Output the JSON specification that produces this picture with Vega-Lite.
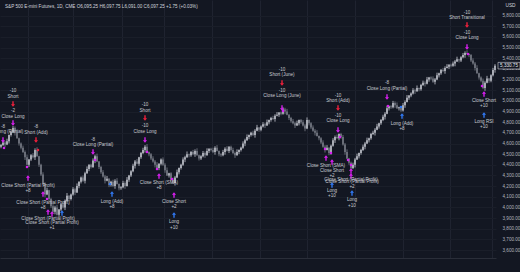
{
  "$schema": "https://vega.github.io/schema/vega-lite/v6.json",
  "width": 496,
  "height": 258,
  "autosize": {"type": "none"},
  "padding": {"left": 0, "top": 0, "right": 24, "bottom": 14},
  "background": "#131722",
  "config": {"view": {"stroke": null}, "font": "Liberation Sans", "axis": {"labelOverlap": false, "labelSeparation": 0}, "axisY": {"labelOverlap": false, "labelBound": false, "tickCount": 40}},
  "title": {"text": "S&P 500 E-mini Futures, 1D, CME  O6,095.25  H6,097.75  L6,091.00  C6,097.25  +1.75 (+0.03%)", "anchor": "start", "frame": "group", "orient": "top", "offset": -9, "dx": 5, "fontSize": 4.6, "fontWeight": "normal", "color": "#d1d4dc", "font": "Liberation Sans"},
  "datasets": {
    "bars": [
      {"i":0,"o":4570,"h":4596,"l":4555,"c":4586},{"i":1,"o":4586,"h":4630,"l":4576,"c":4610},{"i":2,"o":4610,"h":4625,"l":4565,"c":4590},{"i":3,"o":4590,"h":4645,"l":4585,"c":4620},{"i":4,"o":4620,"h":4685,"l":4600,"c":4680},
      {"i":5,"o":4680,"h":4720,"l":4665,"c":4710},{"i":6,"o":4710,"h":4765,"l":4700,"c":4745},{"i":7,"o":4745,"h":4760,"l":4675,"c":4700},{"i":8,"o":4700,"h":4725,"l":4645,"c":4650},{"i":9,"o":4650,"h":4655,"l":4580,"c":4600},
      {"i":10,"o":4600,"h":4610,"l":4545,"c":4560},{"i":11,"o":4560,"h":4580,"l":4510,"c":4520},{"i":12,"o":4520,"h":4535,"l":4445,"c":4470},{"i":13,"o":4470,"h":4495,"l":4395,"c":4400},{"i":14,"o":4400,"h":4455,"l":4380,"c":4450},
      {"i":15,"o":4450,"h":4500,"l":4435,"c":4490},{"i":16,"o":4490,"h":4510,"l":4460,"c":4470},{"i":17,"o":4470,"h":4555,"l":4445,"c":4540},{"i":18,"o":4540,"h":4565,"l":4475,"c":4480},{"i":19,"o":4480,"h":4485,"l":4380,"c":4400},
      {"i":20,"o":4400,"h":4410,"l":4295,"c":4310},{"i":21,"o":4310,"h":4330,"l":4210,"c":4220},{"i":22,"o":4220,"h":4235,"l":4095,"c":4120},{"i":23,"o":4120,"h":4185,"l":4115,"c":4160},{"i":24,"o":4160,"h":4165,"l":4060,"c":4080},
      {"i":25,"o":4080,"h":4090,"l":3995,"c":4010},{"i":26,"o":4010,"h":4030,"l":3950,"c":3960},{"i":27,"o":3960,"h":4015,"l":3935,"c":4000},{"i":28,"o":4000,"h":4025,"l":3925,"c":3930},{"i":29,"o":3930,"h":3985,"l":3910,"c":3980},
      {"i":30,"o":3980,"h":4040,"l":3965,"c":4030},{"i":31,"o":4030,"h":4050,"l":3990,"c":4000},{"i":32,"o":4000,"h":4075,"l":3975,"c":4060},{"i":33,"o":4060,"h":4135,"l":4055,"c":4110},{"i":34,"o":4110,"h":4115,"l":4060,"c":4080},
      {"i":35,"o":4080,"h":4130,"l":4065,"c":4120},{"i":36,"o":4120,"h":4190,"l":4110,"c":4170},{"i":37,"o":4170,"h":4185,"l":4115,"c":4140},{"i":38,"o":4140,"h":4225,"l":4135,"c":4200},{"i":39,"o":4200,"h":4245,"l":4180,"c":4240},
      {"i":40,"o":4240,"h":4290,"l":4225,"c":4280},{"i":41,"o":4280,"h":4300,"l":4240,"c":4250},{"i":42,"o":4250,"h":4335,"l":4225,"c":4320},{"i":43,"o":4320,"h":4385,"l":4315,"c":4360},{"i":44,"o":4360,"h":4405,"l":4340,"c":4400},
      {"i":45,"o":4400,"h":4410,"l":4365,"c":4380},{"i":46,"o":4380,"h":4460,"l":4370,"c":4440},{"i":47,"o":4440,"h":4495,"l":4415,"c":4480},{"i":48,"o":4480,"h":4505,"l":4425,"c":4430},{"i":49,"o":4430,"h":4435,"l":4360,"c":4380},
      {"i":50,"o":4380,"h":4390,"l":4315,"c":4330},{"i":51,"o":4330,"h":4350,"l":4280,"c":4290},{"i":52,"o":4290,"h":4305,"l":4225,"c":4250},{"i":53,"o":4250,"h":4295,"l":4245,"c":4270},{"i":54,"o":4270,"h":4275,"l":4190,"c":4210},
      {"i":55,"o":4210,"h":4250,"l":4195,"c":4240},{"i":56,"o":4240,"h":4260,"l":4190,"c":4200},{"i":57,"o":4200,"h":4265,"l":4175,"c":4250},{"i":58,"o":4250,"h":4275,"l":4215,"c":4220},{"i":59,"o":4220,"h":4225,"l":4160,"c":4180},
      {"i":60,"o":4180,"h":4200,"l":4165,"c":4190},{"i":61,"o":4190,"h":4250,"l":4180,"c":4230},{"i":62,"o":4230,"h":4245,"l":4175,"c":4200},{"i":63,"o":4200,"h":4285,"l":4195,"c":4260},{"i":64,"o":4260,"h":4305,"l":4240,"c":4300},
      {"i":65,"o":4300,"h":4350,"l":4285,"c":4340},{"i":66,"o":4340,"h":4410,"l":4330,"c":4390},{"i":67,"o":4390,"h":4445,"l":4365,"c":4430},{"i":68,"o":4430,"h":4455,"l":4405,"c":4410},{"i":69,"o":4410,"h":4475,"l":4390,"c":4470},
      {"i":70,"o":4470,"h":4520,"l":4455,"c":4510},{"i":71,"o":4510,"h":4560,"l":4500,"c":4540},{"i":72,"o":4540,"h":4585,"l":4515,"c":4570},{"i":73,"o":4570,"h":4595,"l":4515,"c":4520},{"i":74,"o":4520,"h":4525,"l":4480,"c":4500},
      {"i":75,"o":4500,"h":4510,"l":4445,"c":4460},{"i":76,"o":4460,"h":4480,"l":4420,"c":4430},{"i":77,"o":4430,"h":4445,"l":4375,"c":4400},{"i":78,"o":4400,"h":4425,"l":4365,"c":4370},{"i":79,"o":4370,"h":4415,"l":4350,"c":4410},
      {"i":80,"o":4410,"h":4460,"l":4395,"c":4450},{"i":81,"o":4450,"h":4470,"l":4390,"c":4400},{"i":82,"o":4400,"h":4415,"l":4325,"c":4350},{"i":83,"o":4350,"h":4375,"l":4295,"c":4300},{"i":84,"o":4300,"h":4325,"l":4280,"c":4320},
      {"i":85,"o":4320,"h":4330,"l":4245,"c":4260},{"i":86,"o":4260,"h":4280,"l":4220,"c":4230},{"i":87,"o":4230,"h":4295,"l":4205,"c":4280},{"i":88,"o":4280,"h":4355,"l":4275,"c":4330},{"i":89,"o":4330,"h":4375,"l":4310,"c":4370},
      {"i":90,"o":4370,"h":4410,"l":4355,"c":4400},{"i":91,"o":4400,"h":4470,"l":4390,"c":4450},{"i":92,"o":4450,"h":4485,"l":4425,"c":4470},{"i":93,"o":4470,"h":4525,"l":4465,"c":4500},{"i":94,"o":4500,"h":4505,"l":4470,"c":4490},
      {"i":95,"o":4490,"h":4530,"l":4475,"c":4520},{"i":96,"o":4520,"h":4540,"l":4490,"c":4500},{"i":97,"o":4500,"h":4545,"l":4475,"c":4530},{"i":98,"o":4530,"h":4555,"l":4485,"c":4490},{"i":99,"o":4490,"h":4495,"l":4440,"c":4460},
      {"i":100,"o":4460,"h":4490,"l":4445,"c":4480},{"i":101,"o":4480,"h":4530,"l":4470,"c":4510},{"i":102,"o":4510,"h":4525,"l":4465,"c":4490},{"i":103,"o":4490,"h":4555,"l":4485,"c":4530},{"i":104,"o":4530,"h":4555,"l":4510,"c":4550},
      {"i":105,"o":4550,"h":4560,"l":4525,"c":4540},{"i":106,"o":4540,"h":4560,"l":4510,"c":4520},{"i":107,"o":4520,"h":4575,"l":4495,"c":4560},{"i":108,"o":4560,"h":4585,"l":4525,"c":4530},{"i":109,"o":4530,"h":4535,"l":4480,"c":4500},
      {"i":110,"o":4500,"h":4510,"l":4475,"c":4490},{"i":111,"o":4490,"h":4540,"l":4480,"c":4520},{"i":112,"o":4520,"h":4565,"l":4495,"c":4550},{"i":113,"o":4550,"h":4575,"l":4525,"c":4530},{"i":114,"o":4530,"h":4575,"l":4510,"c":4570},
      {"i":115,"o":4570,"h":4580,"l":4525,"c":4540},{"i":116,"o":4540,"h":4560,"l":4500,"c":4510},{"i":117,"o":4510,"h":4525,"l":4465,"c":4490},{"i":118,"o":4490,"h":4545,"l":4485,"c":4520},{"i":119,"o":4520,"h":4545,"l":4500,"c":4540},
      {"i":120,"o":4540,"h":4570,"l":4525,"c":4560},{"i":121,"o":4560,"h":4620,"l":4550,"c":4600},{"i":122,"o":4600,"h":4645,"l":4575,"c":4630},{"i":123,"o":4630,"h":4685,"l":4625,"c":4660},{"i":124,"o":4660,"h":4685,"l":4640,"c":4680},
      {"i":125,"o":4680,"h":4710,"l":4665,"c":4700},{"i":126,"o":4700,"h":4720,"l":4670,"c":4680},{"i":127,"o":4680,"h":4735,"l":4655,"c":4720},{"i":128,"o":4720,"h":4775,"l":4715,"c":4750},{"i":129,"o":4750,"h":4755,"l":4710,"c":4730},
      {"i":130,"o":4730,"h":4770,"l":4715,"c":4760},{"i":131,"o":4760,"h":4800,"l":4750,"c":4780},{"i":132,"o":4780,"h":4795,"l":4745,"c":4770},{"i":133,"o":4770,"h":4825,"l":4765,"c":4800},{"i":134,"o":4800,"h":4825,"l":4780,"c":4820},
      {"i":135,"o":4820,"h":4850,"l":4805,"c":4840},{"i":136,"o":4840,"h":4860,"l":4820,"c":4830},{"i":137,"o":4830,"h":4875,"l":4805,"c":4860},{"i":138,"o":4860,"h":4895,"l":4855,"c":4870},{"i":139,"o":4870,"h":4895,"l":4850,"c":4890},
      {"i":140,"o":4890,"h":4900,"l":4865,"c":4880},{"i":141,"o":4880,"h":4940,"l":4870,"c":4920},{"i":142,"o":4920,"h":4935,"l":4875,"c":4900},{"i":143,"o":4900,"h":4925,"l":4865,"c":4870},{"i":144,"o":4870,"h":4875,"l":4820,"c":4840},
      {"i":145,"o":4840,"h":4850,"l":4795,"c":4810},{"i":146,"o":4810,"h":4830,"l":4780,"c":4790},{"i":147,"o":4790,"h":4805,"l":4745,"c":4770},{"i":148,"o":4770,"h":4815,"l":4765,"c":4790},{"i":149,"o":4790,"h":4825,"l":4770,"c":4820},
      {"i":150,"o":4820,"h":4830,"l":4785,"c":4800},{"i":151,"o":4800,"h":4820,"l":4760,"c":4770},{"i":152,"o":4770,"h":4785,"l":4715,"c":4740},{"i":153,"o":4740,"h":4845,"l":4735,"c":4820},{"i":154,"o":4820,"h":4825,"l":4770,"c":4790},
      {"i":155,"o":4790,"h":4800,"l":4735,"c":4750},{"i":156,"o":4750,"h":4770,"l":4710,"c":4720},{"i":157,"o":4720,"h":4735,"l":4675,"c":4700},{"i":158,"o":4700,"h":4725,"l":4665,"c":4670},{"i":159,"o":4670,"h":4675,"l":4630,"c":4650},
      {"i":160,"o":4650,"h":4660,"l":4595,"c":4610},{"i":161,"o":4610,"h":4630,"l":4560,"c":4570},{"i":162,"o":4570,"h":4585,"l":4515,"c":4540},{"i":163,"o":4540,"h":4585,"l":4535,"c":4560},{"i":164,"o":4560,"h":4565,"l":4490,"c":4510},
      {"i":165,"o":4510,"h":4590,"l":4495,"c":4580},{"i":166,"o":4580,"h":4650,"l":4570,"c":4630},{"i":167,"o":4630,"h":4675,"l":4605,"c":4660},{"i":168,"o":4660,"h":4685,"l":4645,"c":4650},{"i":169,"o":4650,"h":4695,"l":4630,"c":4690},
      {"i":170,"o":4690,"h":4700,"l":4645,"c":4660},{"i":171,"o":4660,"h":4680,"l":4580,"c":4590},{"i":172,"o":4590,"h":4605,"l":4495,"c":4520},{"i":173,"o":4520,"h":4545,"l":4455,"c":4460},{"i":174,"o":4460,"h":4465,"l":4400,"c":4420},
      {"i":175,"o":4420,"h":4430,"l":4355,"c":4370},{"i":176,"o":4370,"h":4420,"l":4360,"c":4400},{"i":177,"o":4400,"h":4465,"l":4375,"c":4450},{"i":178,"o":4450,"h":4505,"l":4445,"c":4480},{"i":179,"o":4480,"h":4515,"l":4460,"c":4510},
      {"i":180,"o":4510,"h":4550,"l":4495,"c":4540},{"i":181,"o":4540,"h":4590,"l":4530,"c":4570},{"i":182,"o":4570,"h":4615,"l":4545,"c":4600},{"i":183,"o":4600,"h":4655,"l":4595,"c":4630},{"i":184,"o":4630,"h":4655,"l":4610,"c":4650},
      {"i":185,"o":4650,"h":4700,"l":4635,"c":4690},{"i":186,"o":4690,"h":4720,"l":4680,"c":4700},{"i":187,"o":4700,"h":4745,"l":4675,"c":4730},{"i":188,"o":4730,"h":4785,"l":4725,"c":4760},{"i":189,"o":4760,"h":4795,"l":4740,"c":4790},
      {"i":190,"o":4790,"h":4830,"l":4775,"c":4820},{"i":191,"o":4820,"h":4870,"l":4810,"c":4850},{"i":192,"o":4850,"h":4895,"l":4825,"c":4880},{"i":193,"o":4880,"h":4955,"l":4875,"c":4930},{"i":194,"o":4930,"h":4955,"l":4910,"c":4950},
      {"i":195,"o":4950,"h":4960,"l":4925,"c":4940},{"i":196,"o":4940,"h":5000,"l":4930,"c":4980},{"i":197,"o":4980,"h":4995,"l":4935,"c":4960},{"i":198,"o":4960,"h":4985,"l":4925,"c":4930},{"i":199,"o":4930,"h":4945,"l":4910,"c":4940},
      {"i":200,"o":4940,"h":4950,"l":4895,"c":4910},{"i":201,"o":4910,"h":4980,"l":4900,"c":4960},{"i":202,"o":4960,"h":5005,"l":4935,"c":4990},{"i":203,"o":4990,"h":5055,"l":4985,"c":5030},{"i":204,"o":5030,"h":5055,"l":5010,"c":5050},
      {"i":205,"o":5050,"h":5080,"l":5035,"c":5070},{"i":206,"o":5070,"h":5120,"l":5060,"c":5100},{"i":207,"o":5100,"h":5115,"l":5065,"c":5090},{"i":208,"o":5090,"h":5145,"l":5085,"c":5120},{"i":209,"o":5120,"h":5125,"l":5090,"c":5110},
      {"i":210,"o":5110,"h":5160,"l":5095,"c":5150},{"i":211,"o":5150,"h":5190,"l":5140,"c":5170},{"i":212,"o":5170,"h":5185,"l":5135,"c":5160},{"i":213,"o":5160,"h":5225,"l":5155,"c":5200},{"i":214,"o":5200,"h":5225,"l":5180,"c":5220},
      {"i":215,"o":5220,"h":5230,"l":5195,"c":5210},{"i":216,"o":5210,"h":5230,"l":5170,"c":5180},{"i":217,"o":5180,"h":5215,"l":5155,"c":5200},{"i":218,"o":5200,"h":5265,"l":5195,"c":5240},{"i":219,"o":5240,"h":5265,"l":5220,"c":5260},
      {"i":220,"o":5260,"h":5300,"l":5245,"c":5290},{"i":221,"o":5290,"h":5310,"l":5270,"c":5280},{"i":222,"o":5280,"h":5325,"l":5255,"c":5310},{"i":223,"o":5310,"h":5345,"l":5305,"c":5320},{"i":224,"o":5320,"h":5345,"l":5300,"c":5340},
      {"i":225,"o":5340,"h":5350,"l":5315,"c":5330},{"i":226,"o":5330,"h":5370,"l":5320,"c":5350},{"i":227,"o":5350,"h":5385,"l":5325,"c":5370},{"i":228,"o":5370,"h":5415,"l":5365,"c":5390},{"i":229,"o":5390,"h":5395,"l":5360,"c":5380},
      {"i":230,"o":5380,"h":5420,"l":5365,"c":5410},{"i":231,"o":5410,"h":5450,"l":5400,"c":5430},{"i":232,"o":5430,"h":5465,"l":5405,"c":5450},{"i":233,"o":5450,"h":5475,"l":5435,"c":5440},{"i":234,"o":5440,"h":5445,"l":5410,"c":5430},
      {"i":235,"o":5430,"h":5440,"l":5365,"c":5380},{"i":236,"o":5380,"h":5400,"l":5340,"c":5350},{"i":237,"o":5350,"h":5365,"l":5285,"c":5310},{"i":238,"o":5310,"h":5335,"l":5255,"c":5260},{"i":239,"o":5260,"h":5265,"l":5200,"c":5220},
      {"i":240,"o":5220,"h":5230,"l":5175,"c":5190},{"i":241,"o":5190,"h":5210,"l":5110,"c":5120},{"i":242,"o":5120,"h":5185,"l":5095,"c":5170},{"i":243,"o":5170,"h":5235,"l":5165,"c":5210},{"i":244,"o":5210,"h":5215,"l":5170,"c":5190},
      {"i":245,"o":5190,"h":5250,"l":5175,"c":5240},{"i":246,"o":5240,"h":5310,"l":5230,"c":5290},{"i":247,"o":5290,"h":5345,"l":5265,"c":5330.75}
    ],
    "fills": [
      {"i":1.5,"p":4558,"k":"closeLong"},{"i":18.5,"p":4539,"k":"short"},{"i":13,"p":4379,"k":"closeLong"},{"i":23,"p":4079,"k":"closeLong"},
      {"i":47,"p":4445,"k":"closeLong"},{"i":54.5,"p":4219,"k":"long"},{"i":73,"p":4520,"k":"closeLong"},{"i":78,"p":4360,"k":"closeLong"},
      {"i":85.5,"p":4266,"k":"closeLong"},{"i":141,"p":4905,"k":"closeLong"},{"i":162,"p":4548,"k":"closeLong"},{"i":165,"p":4511,"k":"closeLong"},
      {"i":169.5,"p":4661,"k":"closeLong"},{"i":173.5,"p":4445,"k":"closeLong"},{"i":175,"p":4398,"k":"closeLong"},{"i":193.5,"p":4952,"k":"closeLong"},
      {"i":200,"p":4943,"k":"long"},{"i":233.5,"p":5440,"k":"closeLong"},{"i":240.5,"p":5140,"k":"closeLong"}
    ],
    "arrows": [
      {"i":6,"p":4971,"k":"short"},{"i":6,"p":4792,"k":"closeLong"},{"i":1,"p":4633,"k":"closeLong"},{"i":17.5,"p":4633,"k":"short"},
      {"i":13.5,"p":4276,"k":"closeShort"},{"i":21,"p":4126,"k":"closeShort"},{"i":23.5,"p":3956,"k":"closeShort"},{"i":25.5,"p":3938,"k":"closeShort"},
      {"i":30.5,"p":3947,"k":"long"},{"i":46,"p":4520,"k":"closeLong"},{"i":55.5,"p":4126,"k":"long"},{"i":72,"p":4839,"k":"short"},
      {"i":72,"p":4633,"k":"closeLong"},{"i":79,"p":4295,"k":"closeShort"},{"i":86.5,"p":4116,"k":"closeShort"},{"i":86.5,"p":3928,"k":"long"},
      {"i":140.5,"p":5168,"k":"short"},{"i":140.5,"p":4933,"k":"closeLong"},{"i":162.5,"p":4464,"k":"closeShort"},{"i":165.5,"p":4426,"k":"closeShort"},
      {"i":165.5,"p":4210,"k":"long"},{"i":168.5,"p":4933,"k":"short"},{"i":168.5,"p":4727,"k":"closeLong"},{"i":175,"p":4342,"k":"closeShort"},
      {"i":175,"p":4295,"k":"closeShort"},{"i":175.5,"p":4135,"k":"long"},{"i":193,"p":5037,"k":"closeLong"},{"i":200.5,"p":4858,"k":"long"},
      {"i":233,"p":5713,"k":"short"},{"i":233,"p":5506,"k":"closeLong"},{"i":241.5,"p":5065,"k":"closeShort"},{"i":241.5,"p":4868,"k":"long"}
    ],
    "labels": [
      {"i":6,"p":5093,"t":"-10"},{"i":6,"p":5037,"t":"Short"},{"i":6,"p":4905,"t":"-2"},{"i":6,"p":4849,"t":"Close Long"},
      {"i":1,"p":4755,"t":"-8"},{"i":1,"p":4708,"t":"Close Long (Partial)"},
      {"i":17.5,"p":4755,"t":"-8"},{"i":17.5,"p":4699,"t":"Short (Add)"},
      {"i":13.5,"p":4201,"t":"Close Short (Partial Profit)"},{"i":13.5,"p":4154,"t":"+8"},
      {"i":21,"p":4041,"t":"Close Short (Partial Profit)"},{"i":21,"p":3994,"t":"+8"},
      {"i":23.5,"p":3891,"t":"Close Short (Partial Profit)"},{"i":25.5,"p":3853,"t":"Close Short (Partial Profit)"},{"i":25.5,"p":3806,"t":"+1"},
      {"i":46,"p":4633,"t":"-8"},{"i":46,"p":4586,"t":"Close Long (Partial)"},
      {"i":55.5,"p":4050,"t":"Long (Add)"},{"i":55.5,"p":4003,"t":"+8"},
      {"i":72,"p":4961,"t":"-10"},{"i":72,"p":4905,"t":"Short"},{"i":72,"p":4764,"t":"-10"},{"i":72,"p":4708,"t":"Close Long"},
      {"i":79,"p":4229,"t":"Close Short (SMA)"},{"i":79,"p":4182,"t":"+8"},
      {"i":86.5,"p":4050,"t":"Close Short"},{"i":86.5,"p":4003,"t":"+2"},{"i":86.5,"p":3863,"t":"Long"},{"i":86.5,"p":3806,"t":"+10"},
      {"i":140.5,"p":5290,"t":"-10"},{"i":140.5,"p":5243,"t":"Short (June)"},{"i":140.5,"p":5093,"t":"-10"},{"i":140.5,"p":5046,"t":"Close Long (June)"},
      {"i":162.5,"p":4389,"t":"Close Short (SMA)"},
      {"i":165.5,"p":4342,"t":"Close Short"},{"i":165.5,"p":4295,"t":"+2"},{"i":165.5,"p":4154,"t":"Long"},{"i":165.5,"p":4107,"t":"+10"},
      {"i":168.5,"p":5046,"t":"-10"},{"i":168.5,"p":4999,"t":"Short (Add)"},{"i":168.5,"p":4858,"t":"-10"},{"i":168.5,"p":4811,"t":"Close Long"},
      {"i":175,"p":4257,"t":"Close Short (Partial Profit)"},{"i":175.5,"p":4238,"t":"Close Short (Partial Profit)"},{"i":175.5,"p":4191,"t":"+2"},
      {"i":175.5,"p":4069,"t":"Long"},{"i":175.5,"p":4013,"t":"+10"},
      {"i":193,"p":5168,"t":"-8"},{"i":193,"p":5112,"t":"Close Long (Partial)"},
      {"i":200.5,"p":4783,"t":"Long (Add)"},{"i":200.5,"p":4736,"t":"+8"},
      {"i":233,"p":5825,"t":"-10"},{"i":233,"p":5778,"t":"Short Transitional"},{"i":233,"p":5638,"t":"-10"},{"i":233,"p":5591,"t":"Close Long"},
      {"i":241.5,"p":4999,"t":"Close Short"},{"i":241.5,"p":4952,"t":"+10"},{"i":241.5,"p":4802,"t":"Long RSI"},{"i":241.5,"p":4755,"t":"+10"}
    ],
    "last": [{"i":247,"p":5330.75,"t":"5,330.75"}]
  },
  "layer": [
    {
      "data": {"name": "bars"},
      "mark": {"type": "rule", "strokeWidth": 0.8},
      "encoding": {
        "x": {"field": "i", "type": "quantitative", "scale": {"domain": [-0.5, 247.5], "nice": false, "zero": false},
              "axis": {"orient": "bottom", "values": [13.5, 36, 60.5, 81.5, 105.5, 129.5, 153, 177, 201, 224.5, 245.5], "tickCount": 40, "labels": false, "ticks": false, "domain": true, "domainColor": "#2a2e39", "grid": true, "gridColor": "#1f2330", "gridWidth": 1, "title": null}},
        "y": {"field": "l", "type": "quantitative", "scale": {"domain": [3524.9, 5947.4], "nice": false, "zero": false},
              "axis": {"orient": "right", "values": [3600,3700,3800,3900,4000,4100,4200,4300,4400,4500,4600,4700,4800,4900,5000,5100,5200,5300,5400,5500,5600,5700,5800], "tickCount": 40,
                       "format": ",.2f", "labelFontSize": 4.6, "labelColor": "#b2b5be", "labelFont": "Liberation Sans", "labelOverlap": false, "labelBound": false, "ticks": false, "domain": false, "labelPadding": 6,
                       "grid": true, "gridColor": "#1a1e29", "gridWidth": 1,
                       "title": "USD", "titleAngle": 0, "titleX": 14, "titleY": 5, "titleAlign": "center", "titleBaseline": "middle", "titleFontSize": 4.8, "titleFontWeight": "normal", "titleColor": "#d1d4dc", "titleFont": "Liberation Sans"}},
        "y2": {"field": "h"},
        "color": {"condition": {"test": "datum.c >= datum.o", "value": "#c9ccd4"}, "value": "#7c808b"}
      }
    },
    {
      "data": {"name": "bars"},
      "mark": {"type": "rule", "strokeWidth": 1.4},
      "encoding": {
        "x": {"field": "i", "type": "quantitative"},
        "y": {"field": "o", "type": "quantitative"},
        "y2": {"field": "c"},
        "color": {"condition": {"test": "datum.c >= datum.o", "value": "#c9ccd4"}, "value": "#7c808b"}
      }
    },
    {
      "data": {"name": "fills"},
      "mark": {"type": "point", "shape": "square", "filled": true, "size": 5, "opacity": 1},
      "encoding": {
        "x": {"field": "i", "type": "quantitative"},
        "y": {"field": "p", "type": "quantitative"},
        "color": {"field": "k", "type": "nominal", "scale": {"domain": ["short", "closeLong", "long", "closeShort"], "range": ["#f0203c", "#d81ff0", "#3179f5", "#d81ff0"]}, "legend": null}
      }
    },
    {
      "data": {"name": "arrows"},
      "mark": {"type": "point", "filled": true, "size": 30, "opacity": 1},
      "encoding": {
        "x": {"field": "i", "type": "quantitative"},
        "y": {"field": "p", "type": "quantitative"},
        "shape": {"field": "k", "type": "nominal", "scale": {"domain": ["short", "closeLong", "long", "closeShort"], "range": ["M-0.25,-1H0.25V0.1H0.75L0,1L-0.75,0.1H-0.25Z", "M-0.25,-1H0.25V0.1H0.75L0,1L-0.75,0.1H-0.25Z", "M-0.25,1H0.25V-0.1H0.75L0,-1L-0.75,-0.1H-0.25Z", "M-0.25,1H0.25V-0.1H0.75L0,-1L-0.75,-0.1H-0.25Z"]}, "legend": null},
        "color": {"field": "k", "type": "nominal", "scale": {"domain": ["short", "closeLong", "long", "closeShort"], "range": ["#f0203c", "#d81ff0", "#3179f5", "#d81ff0"]}, "legend": null}
      }
    },
    {
      "data": {"name": "labels"},
      "mark": {"type": "text", "fontSize": 4.6, "font": "Liberation Sans", "color": "#c7cad1", "align": "center", "baseline": "middle"},
      "encoding": {
        "x": {"field": "i", "type": "quantitative"},
        "y": {"field": "p", "type": "quantitative"},
        "text": {"field": "t"}
      }
    },
    {
      "data": {"name": "last"},
      "mark": {"type": "point", "shape": "M-1,-0.3H1V0.3H-1Z", "filled": true, "size": 484, "fill": "#131722", "stroke": "#d1d4dc", "strokeWidth": 0.6, "opacity": 1},
      "encoding": {
        "x": {"field": "i", "type": "quantitative"},
        "xOffset": {"value": 14},
        "y": {"field": "p", "type": "quantitative"}
      }
    },
    {
      "data": {"name": "last"},
      "mark": {"type": "text", "fontSize": 4.6, "font": "Liberation Sans", "color": "#e6e8ee", "align": "center", "baseline": "middle", "dx": 14},
      "encoding": {
        "x": {"field": "i", "type": "quantitative"},
        "y": {"field": "p", "type": "quantitative"},
        "text": {"field": "t"}
      }
    }
  ]
}
